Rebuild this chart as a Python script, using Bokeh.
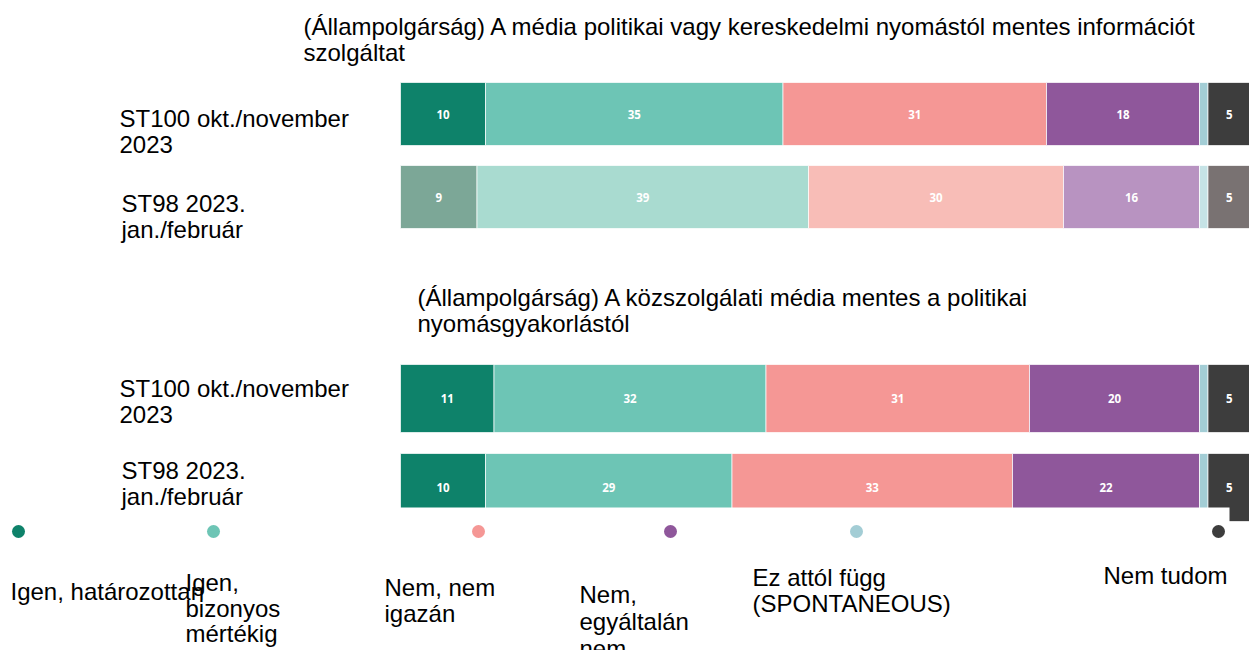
from bokeh.plotting import figure
from bokeh.models import Range1d, Label
from bokeh.core.properties import value
from bokeh.embed import file_html
from bokeh.resources import INLINE

# ---------------- data ----------------
categories = ["Igen, határozottan", "Igen, bizonyos mértékig", "Nem, nem igazán",
              "Nem, egyáltalán nem", "Ez attól függ (SPONTANEOUS)", "Nem tudom"]
legend_lines = [["Igen, határozottan"], ["Igen,", "bizonyos", "mértékig"], ["Nem, nem", "igazán"],
                ["Nem,", "egyáltalán", "nem"], ["Ez attól függ", "(SPONTANEOUS)"], ["Nem tudom"]]
question_titles = [
    ["(Állampolgárság) A média politikai vagy kereskedelmi nyomástól mentes információt", "szolgáltat"],
    ["(Állampolgárság) A közszolgálati média mentes a politikai", "nyomásgyakorlástól"],
]
wave_labels = [["ST100 okt./november", "2023"], ["ST98 2023.", "jan./február"]]

q1_st100 = [10, 35, 31, 18, 1, 5]
q1_st98 = [9, 39, 30, 16, 1, 5]
q2_st100 = [11, 32, 31, 20, 1, 5]
q2_st98 = [10, 29, 33, 22, 1, 5]

# ---------------- styles ----------------
colors = ["#0e826a", "#6dc5b5", "#f59795", "#8f579b", "#a3cdd5", "#3d3d3d"]
faded = ["#7ca797", "#a9dbd0", "#f8bdb7", "#b893c1", "#c6e3e6", "#797272"]
FONT = "Liberation Sans"
FS = "24px"

W, H = 1249, 650
PX_PER_UNIT = 8.5
ZERO_PX = 400  # figure pixel where 0% lies
TEXT_SHIFT = -9

p = figure(width=W, height=H, output_backend="svg", toolbar_location=None,
           x_range=Range1d(-ZERO_PX / PX_PER_UNIT, (W - ZERO_PX) / PX_PER_UNIT),
           y_range=Range1d(H, 0), min_border=0, outline_line_color=None,
           background_fill_color="white", border_fill_color="white")
p.axis.visible = False
p.grid.visible = False


def dy(page_y):
    return page_y


def dx(page_x):
    return (page_x - ZERO_PX) / PX_PER_UNIT


# rows: (values, centre y, height, palette)
rows = [
    (q1_st100, 113.5, 63, colors),
    (q1_st98, 196.5, 63, faded),
    (q2_st100, 398, 68, colors),
    (q2_st98, 487, 68, colors),
]

for vals, cy, h, pal in rows:
    left = []
    right = []
    acc = 0
    for v in vals:
        left.append(acc)
        acc += v
        right.append(acc)
    ys = [dy(cy)] * len(vals)
    p.hbar(y=ys, left=left, right=right, height=h, fill_color=pal,
           line_color="white", line_width=1, line_alpha=0.7)
    lx = [(l + r) / 2 for l, r, v in zip(left, right, vals) if v > 1]
    lt = [str(v) for v in vals if v > 1]
    p.text(x=lx, y=[dy(cy)] * len(lx), text=lt, text_align="center", text_baseline="middle",
           text_color="white", text_font=value("Open Sans"), text_font_style="bold",
           text_font_size="11.5px")

# white area of the legend covering the lower part of the last bar
p.quad(left=[dx(-10)], right=[dx(1229)], top=[dy(507)], bottom=[dy(660)],
       fill_color="white", line_color=None)

# legend dots
dot_x = [18, 213, 478, 670, 856, 1218]
p.scatter(x=[dx(x) for x in dot_x], y=[dy(531)] * 6, size=13, marker="circle",
          fill_color=colors, line_color=None)


def add_text(txt, px, py):
    p.add_layout(Label(x=px, y=dy(py + TEXT_SHIFT), x_units="screen", y_units="data", text=txt,
                       text_font=FONT, text_font_size=FS, text_color="#000000",
                       text_baseline="alphabetic", text_align="left"))


# question titles
for lines, (tx, ty) in zip(question_titles, [(303, 35), (417, 306)]):
    for i, ln in enumerate(lines):
        add_text(ln, tx, ty + i * 26)

# wave labels
for (tx, ty), lines in zip([(119, 127), (121, 212), (119, 397), (121, 479)],
                           wave_labels * 2):
    for i, ln in enumerate(lines):
        add_text(ln, tx, ty + i * 26)

# legend labels: (x, first baseline, line step)
leg_pos = [(10, 600, 25.5), (185, 591, 25.5), (384, 596, 25.5), (579, 603, 27),
           (752, 586, 25.5), (1103, 584, 25.5)]
for lines, (tx, ty, step) in zip(legend_lines, leg_pos):
    for i, ln in enumerate(lines):
        add_text(ln, tx, ty + i * step)

open("out.html", "w").write(file_html(p, INLINE))
